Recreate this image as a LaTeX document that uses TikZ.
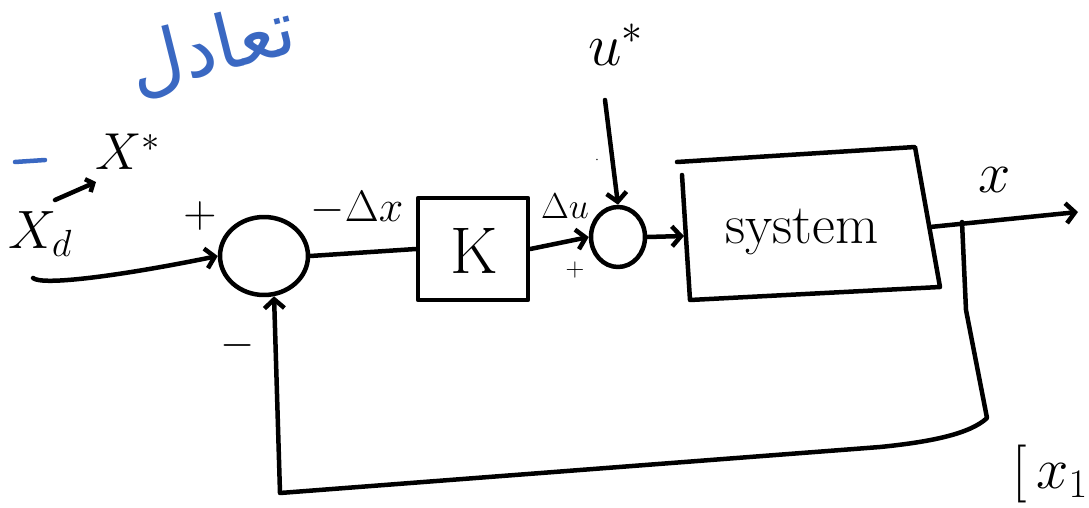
\RequirePackage{fix-cm}
\documentclass[tikz,border=0pt]{standalone}
\usepackage{fontspec}
\newfontfamily\arabicfont[Script=Arabic]{DejaVu Sans}
\TeXXeTstate=1
\usetikzlibrary{arrows.meta,shapes.geometric}
\definecolor{penblue}{HTML}{3A68C2}
\tikzset{
  ink/.style={line width=4.5pt, line cap=round, line join=round},
  arr/.style={ink, -{Straight Barb[length=9pt,width=20pt]}},
  sumj/.style={ellipse, draw, ink, inner sep=0pt},
  lbl/.style={inner sep=0pt, font=\fontsize{50}{56}\selectfont},
}
\begin{document}
\begin{tikzpicture}[x=1pt,y=-1pt]
\useasboundingbox (0,0) rectangle (1089,508);
% blue handwritten note
\node[inner sep=0pt, text=penblue, rotate=14, font=\arabicfont\fontsize{76}{82}\selectfont] (note) at (212,50) {\beginR تعادل\endR};
\draw[ink, penblue] (15,162) -- (45,160);
% junctions and blocks
\node[sumj, minimum width=88pt, minimum height=78pt] (s1) at (264,256) {};
\node[sumj, minimum width=54pt, minimum height=60pt] (s2) at (618,237) {};
\node[draw, ink, minimum width=110pt, minimum height=102pt, inner sep=0pt] (K) at (473,249) {};
\node[lbl, font=\fontsize{66}{70}\selectfont] (Klab) at (474,251) {K};
\node[inner sep=0pt, minimum width=256pt, minimum height=140pt] (sys) at (810,225) {};
\draw[ink] (677,162) -- (915,147) -- (940,287) -- (690,300) -- (682,175);
\node[lbl, font=\fontsize{56}{60}\selectfont] (syslab) at (802,232) {system};
% labels
\node[lbl, font=\fontsize{54}{58}\selectfont] (xd) at (40,234) {$X_{d}$};
\node[lbl, font=\fontsize{52}{56}\selectfont] (xstar) at (128,152) {$X^{*}$};
\node[lbl, font=\fontsize{46}{50}\selectfont] (plus1) at (200,216) {$+$};
\node[lbl, font=\fontsize{44}{48}\selectfont] (minus1) at (238,345) {$-$};
\node[lbl, font=\fontsize{44}{48}\selectfont] (dx) at (357,208) {$-\Delta x$};
\node[lbl, font=\fontsize{36}{40}\selectfont] (du) at (565,206) {$\Delta u$};
\node[lbl, font=\fontsize{26}{30}\selectfont] (plus2) at (575,270) {$+$};
\node[lbl, font=\fontsize{14}{16}\selectfont] (plus3) at (597,160) {$\cdot$};
\node[lbl, font=\fontsize{60}{64}\selectfont] (ustar) at (616,45) {$u^{*}$};
\node[lbl, font=\fontsize{58}{62}\selectfont] (xout) at (995,180) {$x$};
\node[lbl, font=\fontsize{58}{62}\selectfont, anchor=west] (x1) at (1012,474) {$[\,x_1$};
% connectors
\coordinate (xin) at (33,278);
\coordinate (xa) at (55,200);
\coordinate (xb) at (96,182);
\coordinate (utop) at (605,100);
\coordinate (sysin) at (684,236);
\coordinate (sysout) at (930,227);
\coordinate (out) at (1078,212);
\coordinate (tap) at (962,222);
\draw[ink, -{Straight Barb[length=6pt,width=14pt]}] (xa) -- (xb);
\draw[arr] (xin) .. controls (42,286) and (120,276) .. (s1.west);
\draw[ink] (s1.east) -- (K.west);
\draw[arr] (K.east) -- (s2.west);
\draw[arr] (utop) -- (s2.north);
\draw[arr] (s2.east) -- (sysin);
\draw[arr] (sysout) -- (out);
\draw[arr] (tap) -- (966,310) -- (987,418) .. controls (970,434) and (930,442) .. (880,447) -- (280,493) -- (s1.-76);
\end{tikzpicture}
\end{document}
